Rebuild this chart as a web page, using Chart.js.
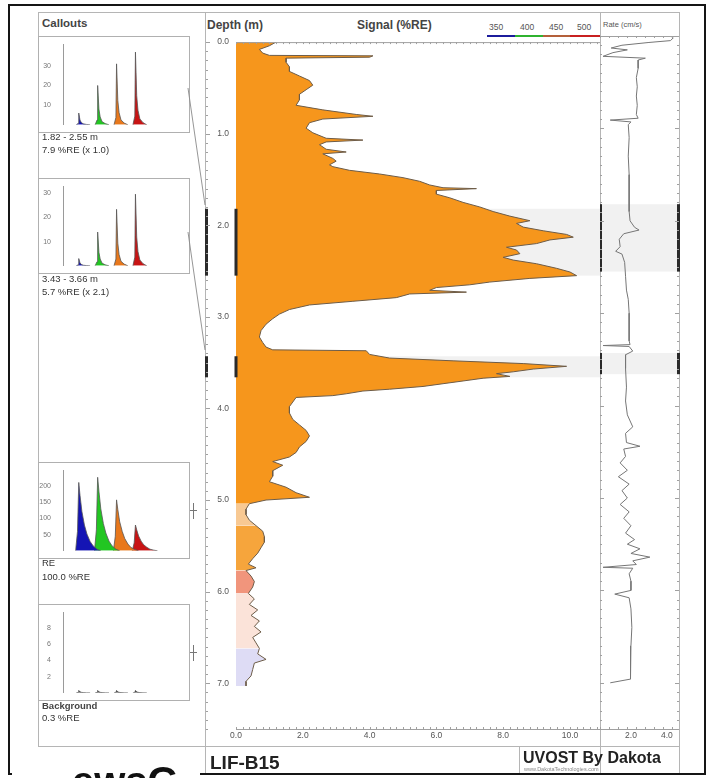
<!DOCTYPE html>
<html>
<head>
<meta charset="utf-8">
<script src="https://cdn.jsdelivr.net/npm/chart.js@4.4.1/dist/chart.umd.min.js"></script>
<style>
body { margin:0; width:711px; height:778px; background:#fff; position:relative; overflow:hidden; font-family:"Liberation Sans", Arial, sans-serif; color:#333; }
.hl { position:absolute; height:1px; background:#b5b5b5; }
.vl { position:absolute; width:1px; background:#b5b5b5; }
.box { position:absolute; border:1px solid #b0b0b0; box-sizing:border-box; }
.txt { position:absolute; white-space:nowrap; line-height:1; }
canvas { position:absolute; }
</style>
</head>
<body>

<!-- outer frame -->
<div style="position:absolute;left:8px;top:4px;width:694px;height:767px;border:2px solid #151515;"></div>
<div class="hl" style="left:38px;top:12px;width:642px;"></div>
<div class="vl" style="left:38px;top:12px;height:734px;"></div>
<div class="vl" style="left:205px;top:12px;height:761px;"></div>
<div class="vl" style="left:600px;top:12px;height:761px;"></div>
<div class="vl" style="left:679px;top:12px;height:761px;"></div>
<div class="hl" style="left:38px;top:746px;width:642px;"></div>
<div class="vl" style="left:519px;top:746px;height:27px;"></div>

<!-- headers -->
<div class="txt" style="left:42px;top:18px;font-size:11.5px;font-weight:bold;color:#444;">Callouts</div>
<div class="txt" style="left:207px;top:19px;font-size:12px;font-weight:bold;color:#444;">Depth (m)</div>
<div class="txt" style="left:357px;top:19px;font-size:12px;font-weight:bold;color:#444;">Signal (%RE)</div>
<div class="txt" style="left:489px;top:23px;font-size:8.5px;color:#555;">350</div>
<div class="txt" style="left:520px;top:23px;font-size:8.5px;color:#555;">400</div>
<div class="txt" style="left:549px;top:23px;font-size:8.5px;color:#555;">450</div>
<div class="txt" style="left:577px;top:23px;font-size:8.5px;color:#555;">500</div>
<div style="position:absolute;left:487px;top:35px;width:28px;height:2px;background:#1c1c9c;"></div>
<div style="position:absolute;left:515px;top:35px;width:28px;height:2px;background:#2fb22f;"></div>
<div style="position:absolute;left:543px;top:35px;width:27px;height:2px;background:#b4603a;"></div>
<div style="position:absolute;left:570px;top:35px;width:30px;height:2px;background:#c82020;"></div>
<div class="txt" style="left:603px;top:21px;font-size:7.5px;color:#555;">Rate (cm/s)</div>

<!-- callout boxes -->
<div class="box" style="left:38px;top:36px;width:152px;height:97px;"></div>
<div class="box" style="left:38px;top:178px;width:152px;height:96px;"></div>
<div class="box" style="left:38px;top:462px;width:152px;height:97px;"></div>
<div class="box" style="left:38px;top:604px;width:152px;height:97px;"></div>

<canvas id="c1" width="152" height="97" style="left:38px;top:36px;"></canvas>
<canvas id="c2" width="152" height="96" style="left:38px;top:178px;"></canvas>
<canvas id="c3" width="152" height="97" style="left:38px;top:462px;"></canvas>
<canvas id="c4" width="152" height="97" style="left:38px;top:604px;"></canvas>

<div class="txt" style="left:42px;top:132px;font-size:9.5px;">1.82 - 2.55 m</div>
<div class="txt" style="left:42px;top:145px;font-size:9.5px;">7.9 %RE (x 1.0)</div>
<div class="txt" style="left:42px;top:274px;font-size:9.5px;">3.43 - 3.66 m</div>
<div class="txt" style="left:42px;top:287px;font-size:9.5px;">5.7 %RE (x 2.1)</div>
<div class="txt" style="left:42px;top:558px;font-size:9.5px;">RE</div>
<div class="txt" style="left:42px;top:572px;font-size:9.5px;">100.0 %RE</div>
<div class="txt" style="left:42px;top:701px;font-size:9.5px;font-weight:bold;color:#444;">Background</div>
<div class="txt" style="left:42px;top:713px;font-size:9.5px;">0.3 %RE</div>

<!-- side markers of RE / background callouts -->
<div style="position:absolute;left:193px;top:503px;width:1px;height:16px;background:#777;"></div>
<div style="position:absolute;left:190px;top:510px;width:7px;height:1px;background:#777;"></div>
<div style="position:absolute;left:193px;top:645px;width:1px;height:16px;background:#777;"></div>
<div style="position:absolute;left:190px;top:652px;width:7px;height:1px;background:#777;"></div>

<svg style="position:absolute;left:0;top:0;" width="711" height="778">
  <line x1="188" y1="88" x2="205" y2="205" stroke="#8a8a8a" stroke-width="0.9"/>
  <line x1="188" y1="232" x2="205" y2="350" stroke="#8a8a8a" stroke-width="0.9"/>
</svg>

<canvas id="mainChart" width="396" height="716" style="left:205px;top:30px;"></canvas>
<canvas id="rateChart" width="84" height="716" style="left:600px;top:30px;"></canvas>

<!-- footer -->
<div class="txt" style="left:210px;top:753px;font-size:19px;font-weight:bold;color:#222;">LIF-B15</div>
<div class="txt" style="left:523px;top:750px;font-size:16px;font-weight:bold;color:#222;">UVOST By Dakota</div>
<div class="txt" style="left:524px;top:767px;font-size:5.5px;color:#888;">www.DakotaTechnologies.com</div>
<div style="position:absolute;left:12px;top:750px;width:188px;height:28px;overflow:hidden;background:#fff;">
  <div class="txt" style="left:60px;top:11px;font-size:40px;font-weight:bold;color:#111;">ewsG</div>
</div>

<script>
// ---- depth log: UVOST signal (%RE) vs depth (m)
var depthM = [
  0.00,0.04,0.08,0.12,0.145,0.15,0.165,0.175,0.22,0.27,
  0.32,0.37,0.42,0.47,0.52,0.57,0.63,0.69,0.74,0.79,
  0.81,0.84,0.88,0.94,0.99,1.05,1.07,1.09,1.12,1.17,
  1.20,1.22,1.27,1.30,1.34,1.36,1.40,1.44,1.48,1.52,
  1.56,1.59,1.60,1.62,1.66,1.70,1.75,1.80,1.85,1.90,
  1.95,1.98,2.02,2.06,2.10,2.13,2.16,2.20,2.24,2.27,
  2.31,2.35,2.38,2.42,2.47,2.51,2.55,2.58,2.62,2.65,
  2.68,2.71,2.73,2.75,2.79,2.83,2.87,2.92,2.97,3.02,
  3.08,3.15,3.22,3.28,3.33,3.36,3.37,3.41,3.45,3.48,
  3.51,3.54,3.57,3.60,3.62,3.65,3.67,3.70,3.73,3.76,
  3.79,3.81,3.84,3.86,3.88,3.93,3.98,4.05,4.12,4.18,
  4.24,4.30,4.36,4.42,4.48,4.53,4.58,4.62,4.68,4.74,
  4.80,4.86,4.92,4.97,5.00,5.04,5.10,5.16,5.22,5.28,
  5.34,5.40,5.46,5.52,5.58,5.64,5.70,5.74,5.77,5.83,
  5.89,5.95,6.02,6.08,6.14,6.20,6.26,6.32,6.38,6.44,
  6.50,6.56,6.62,6.68,6.74,6.78,6.85,6.92,6.98,7.03
];
var signalRE = [
  1.2,1.0,0.7,0.8,1.0,4.1,4.0,1.5,1.5,1.6,
  1.6,1.9,2.2,2.3,2.1,1.9,1.9,1.8,2.6,3.6,
  4.1,2.6,2.2,2.1,2.3,2.7,3.8,2.7,2.5,2.7,
  3.3,2.6,2.9,3.0,2.8,2.9,3.4,4.3,5.0,5.5,
  5.8,6.2,7.2,6.0,6.0,6.4,6.8,7.3,7.7,8.2,
  8.8,8.4,8.6,9.2,9.9,10.1,9.4,9.0,8.1,8.4,
  8.5,8.0,8.3,9.0,9.6,10.0,10.2,8.8,7.6,7.0,
  6.0,5.8,6.9,5.2,4.8,3.5,2.2,1.6,1.3,1.1,
  0.9,0.75,0.7,0.8,0.9,1.1,3.9,4.0,4.6,6.5,
  8.6,9.9,8.9,8.3,7.8,8.2,7.4,6.8,6.2,5.6,
  4.6,3.8,3.3,2.9,1.8,1.7,1.6,1.6,1.7,1.9,
  2.1,2.2,2.1,1.9,1.8,1.6,1.1,1.4,1.1,1.1,
  1.0,1.5,1.8,2.2,0.9,0.4,0.3,0.3,0.4,0.6,
  0.8,0.85,0.85,0.75,0.65,0.5,0.37,0.6,0.3,0.45,
  0.55,0.5,0.37,0.55,0.4,0.65,0.45,0.7,0.55,0.75,
  0.5,0.6,0.7,0.65,0.9,0.55,0.5,0.45,0.3,0.3
];

// ---- push rate log (cm/s) vs depth (m)
var rateDepthM = [
  0.00,0.02,0.05,0.07,0.10,0.13,0.15,0.18,0.22,0.24,
  0.26,0.35,0.45,0.55,0.65,0.75,0.85,0.89,0.91,0.93,
  0.96,1.10,1.30,1.50,1.70,1.90,2.00,2.07,2.10,2.14,
  2.20,2.28,2.33,2.36,2.45,2.60,2.75,2.85,3.00,3.15,
  3.30,3.34,3.35,3.36,3.41,3.45,3.60,3.80,3.95,4.10,
  4.23,4.30,4.40,4.44,4.47,4.55,4.62,4.70,4.77,4.85,
  4.92,5.00,5.07,5.15,5.22,5.30,5.38,5.45,5.50,5.55,
  5.60,5.64,5.68,5.72,5.75,5.76,5.82,5.90,6.00,6.04,
  6.08,6.20,6.40,6.60,6.80,6.96,7.00
];
var rateCmS = [
  4.2,4.35,4.2,3.0,1.5,0.9,1.8,1.0,0.45,2.8,
  2.4,2.4,2.3,2.35,2.3,2.35,2.3,2.4,0.85,2.0,
  1.85,1.9,1.85,1.9,1.9,1.9,1.95,2.2,2.45,1.6,
  1.35,1.4,1.15,1.5,1.65,1.7,1.75,1.85,1.9,1.9,
  1.9,1.95,0.45,1.9,2.1,1.7,1.7,1.75,1.7,1.8,
  2.1,1.7,1.75,2.5,1.6,1.7,1.4,1.8,1.3,1.9,
  1.5,1.8,1.4,1.9,1.6,2.0,1.7,2.2,1.8,2.5,
  2.0,3.05,2.1,2.3,0.45,2.1,1.9,2.0,2.0,1.1,
  1.9,2.0,2.05,2.0,1.95,2.0,0.85
];

// ---- tick labels
var depthTicks = [0, 1, 2, 3, 4, 5, 6, 7];
var signalTicks = [0, 2, 4, 6, 8, 10];
var rateTicks = [2, 4];

// ---- callout depth intervals (m)
var calloutRanges = [[1.82, 2.55], [3.43, 3.66]];

// ---- callout waveforms, channels 350 / 400 / 450 / 500 nm, time in ns
var spikeTimes = [
  [21, 24, 25, 27, 29, 32, 37, 43],
  [51, 54, 55, 57, 59, 62, 67, 73],
  [81, 84, 85, 87, 89, 92, 97, 103],
  [111, 114, 115, 117, 119, 122, 127, 133]
];
var reTimes = [
  [20, 23, 25, 27, 30, 34, 38, 43, 48, 54, 60],
  [50, 53, 55, 57, 60, 64, 68, 73, 78, 84, 90],
  [80, 83, 85, 87, 90, 94, 98, 103, 108, 114, 120],
  [110, 113, 115, 117, 120, 124, 128, 133, 138, 144, 150]
];
var callout1Wave = [
  [0, 0.7, 6, 2.4, 1.2, 0.5, 0.2, 0],
  [0, 2.4, 20, 8, 4, 1.6, 0.6, 0],
  [0, 3.7, 31, 12.4, 6.2, 2.5, 0.9, 0],
  [0, 4.4, 37, 14.8, 7.4, 3, 1.1, 0]
];
var callout2Wave = [
  [0, 0.4, 3, 1.2, 0.6, 0.24, 0.1, 0],
  [0, 1.7, 14, 5.6, 2.8, 1.1, 0.4, 0],
  [0, 2.8, 23.4, 9.4, 4.7, 1.9, 0.7, 0],
  [0, 3.6, 29.7, 11.9, 5.9, 2.4, 0.9, 0]
];
var reWave = [
  [0, 60, 212, 172, 122, 80, 52, 29, 15, 5, 0],
  [0, 65, 228, 185, 130, 85, 55, 30, 15, 5, 0],
  [0, 45, 158, 128, 90, 60, 38, 21, 10, 4, 0],
  [0, 25, 80, 65, 46, 30, 19, 11, 5, 2, 0]
];
var backgroundWave = [
  [0, 0.05, 0.3, 0.12, 0.06, 0.03, 0.01, 0],
  [0, 0.05, 0.3, 0.12, 0.06, 0.03, 0.01, 0],
  [0, 0.05, 0.3, 0.12, 0.06, 0.03, 0.01, 0],
  [0, 0.05, 0.3, 0.12, 0.06, 0.03, 0.01, 0]
];

// ---- styles
Chart.defaults.font.family = '"Liberation Sans", Arial, sans-serif';
var channelColors = ['#1414b4', '#22c622', '#e8781c', '#c81414'];
var zoneColors = [[5.03, '#f6961c'], [5.28, '#f8c993'], [5.76, '#f6a53c'], [6.02, '#f1957c'], [6.6, '#fbe3d9'], [99, '#dedcf5']];

function zoneColor(d) {
    for (var i = 0; i < zoneColors.length; i++) {
        if (d < zoneColors[i][0]) return zoneColors[i][1];
    }
    return zoneColors[zoneColors.length - 1][1];
}

function setTicks(list) {
    return function (scale) {
        scale.ticks = list.map(function (v) { return {value: v}; });
    };
}

// grey highlight of callout intervals + black markers on the panel edges
var bandPlugin = {
    id: 'bands',
    beforeDatasetsDraw: function (chart) {
        var ctx = chart.ctx, a = chart.chartArea, y = chart.scales.y;
        ctx.save();
        ctx.fillStyle = 'rgba(0,0,0,0.055)';
        calloutRanges.forEach(function (r) {
            var y1 = y.getPixelForValue(r[0]), y2 = y.getPixelForValue(r[1]);
            ctx.fillRect(a.left, y1, a.right - a.left, y2 - y1);
        });
        ctx.restore();
    },
    afterDraw: function (chart, args, opts) {
        var ctx = chart.ctx, a = chart.chartArea, y = chart.scales.y;
        var xs = opts.mode === 'main' ? [1.5, a.left] : [a.left + 0.5, a.right - 0.5];
        ctx.save();
        ctx.fillStyle = '#2a2a2a';
        calloutRanges.forEach(function (r) {
            var y1 = y.getPixelForValue(r[0]), y2 = y.getPixelForValue(r[1]);
            xs.forEach(function (x) { ctx.fillRect(x - 1.5, y1, 3, y2 - y1); });
        });
        ctx.restore();
    }
};

// thin frame lines with small minor ticks
var framePlugin = {
    id: 'frame',
    afterDraw: function (chart, args, opts) {
        var ctx = chart.ctx, a = chart.chartArea, x = chart.scales.x, y = chart.scales.y;
        var v, px, py;
        ctx.save();
        ctx.strokeStyle = '#a0a0a0';
        ctx.lineWidth = 1;
        ctx.beginPath();
        ctx.moveTo(a.left, a.top + 0.5); ctx.lineTo(a.right, a.top + 0.5);
        ctx.moveTo(a.left, a.bottom + 0.5); ctx.lineTo(a.right, a.bottom + 0.5);
        for (v = x.min; v <= x.max; v += opts.xStep) {
            px = Math.round(x.getPixelForValue(v)) + 0.5;
            ctx.moveTo(px, a.bottom); ctx.lineTo(px, a.bottom - 2);
            ctx.moveTo(px, a.top); ctx.lineTo(px, a.top + 2);
        }
        var edges = opts.mode === 'main' ? [1] : [a.left, a.right];
        for (v = 0; v <= y.max + 0.001; v += 0.1) {
            py = Math.round(y.getPixelForValue(v)) + 0.5;
            edges.forEach(function (ex, k) {
                var len = Math.abs(v - Math.round(v)) < 0.01 ? 4 : 2;
                var dir = (opts.mode === 'main' || k === 0) ? 1 : -1;
                ctx.moveTo(ex, py); ctx.lineTo(ex + dir * len, py);
            });
        }
        ctx.stroke();
        ctx.restore();
    }
};

var tickFont = {size: 8.5};

// main signal log
new Chart(document.getElementById('mainChart'), {
    type: 'line',
    data: {
        datasets: [{
            data: depthM.map(function (d, i) { return {x: signalRE[i], y: d}; }),
            borderColor: '#6d5c48',
            borderWidth: 1,
            pointRadius: 0,
            fill: 'origin',
            backgroundColor: '#f6961c',
            segment: {
                backgroundColor: function (c) { return zoneColor((c.p0.parsed.y + c.p1.parsed.y) / 2); }
            }
        }]
    },
    options: {
        indexAxis: 'y',
        responsive: false,
        animation: false,
        layout: {padding: {top: 6, right: 1, left: 0, bottom: 0}},
        plugins: {legend: {display: false}, tooltip: {enabled: false}, bands: {mode: 'main'}, frame: {mode: 'main', xStep: 0.2}},
        scales: {
            x: {
                type: 'linear', min: 0, max: 10.9,
                grid: {display: false, drawTicks: false}, border: {display: false},
                afterFit: function (s) { s.height = 17; },
                afterBuildTicks: setTicks(signalTicks),
                ticks: {font: tickFont, color: '#555', padding: 2, maxRotation: 0,
                    callback: function (v) { return Number(v).toFixed(1); }}
            },
            y: {
                type: 'linear', min: 0, max: 7.5, reverse: true,
                grid: {display: false, drawTicks: false}, border: {display: false},
                afterFit: function (s) { s.width = 31; },
                afterBuildTicks: setTicks(depthTicks),
                ticks: {font: tickFont, color: '#555', padding: 7,
                    callback: function (v) { return Number(v).toFixed(1); }}
            }
        }
    },
    plugins: [bandPlugin, framePlugin]
});

// rate log
new Chart(document.getElementById('rateChart'), {
    type: 'line',
    data: {
        datasets: [{
            data: rateDepthM.map(function (d, i) { return {x: rateCmS[i], y: d}; }),
            borderColor: '#767676',
            borderWidth: 1,
            pointRadius: 0,
            fill: false
        }]
    },
    options: {
        indexAxis: 'y',
        responsive: false,
        animation: false,
        layout: {padding: {top: 6, right: 5, left: 0, bottom: 0}},
        plugins: {legend: {display: false}, tooltip: {enabled: false}, bands: {mode: 'rate'}, frame: {mode: 'rate', xStep: 0.5}},
        scales: {
            x: {
                type: 'linear', min: 0.28, max: 4.67,
                grid: {display: false, drawTicks: false}, border: {display: false},
                afterFit: function (s) { s.height = 17; },
                afterBuildTicks: setTicks(rateTicks),
                ticks: {font: tickFont, color: '#555', padding: 2, maxRotation: 0,
                    callback: function (v) { return Number(v).toFixed(1); }}
            },
            y: {type: 'linear', min: 0, max: 7.5, reverse: true, display: false}
        }
    },
    plugins: [bandPlugin, framePlugin]
});

// callout waveform charts
function makeCallout(id, times, waves, yMax, yTicks, colors) {
    new Chart(document.getElementById(id), {
        type: 'line',
        data: {
            datasets: waves.map(function (w, c) {
                return {
                    data: w.map(function (v, i) { return {x: times[c][i], y: v}; }),
                    borderColor: '#555',
                    borderWidth: 0.8,
                    pointRadius: 0,
                    fill: 'origin',
                    backgroundColor: colors[c]
                };
            })
        },
        options: {
            responsive: false,
            animation: false,
            layout: {padding: {top: 0, right: 1, left: 0, bottom: 0}},
            plugins: {legend: {display: false}, tooltip: {enabled: false}},
            scales: {
                x: {type: 'linear', min: 0, max: 200, display: false},
                y: {
                    type: 'linear', min: 0, max: yMax,
                    grid: {display: false},
                    border: {display: true, color: '#9a9a9a'},
                    afterFit: function (s) { s.width = 25; },
                    afterBuildTicks: setTicks(yTicks),
                    ticks: {font: {size: 7}, color: '#777', padding: 4}
                }
            }
        }
    });
}

makeCallout('c1', spikeTimes, callout1Wave, 41, [10, 20, 30], channelColors);
makeCallout('c2', spikeTimes, callout2Wave, 33, [10, 20, 30], channelColors);
makeCallout('c3', reTimes, reWave, 250, [50, 100, 150, 200], channelColors);
makeCallout('c4', spikeTimes, backgroundWave, 10, [2, 4, 6, 8], ['#222', '#222', '#222', '#222']);
</script>
</body>
</html>
